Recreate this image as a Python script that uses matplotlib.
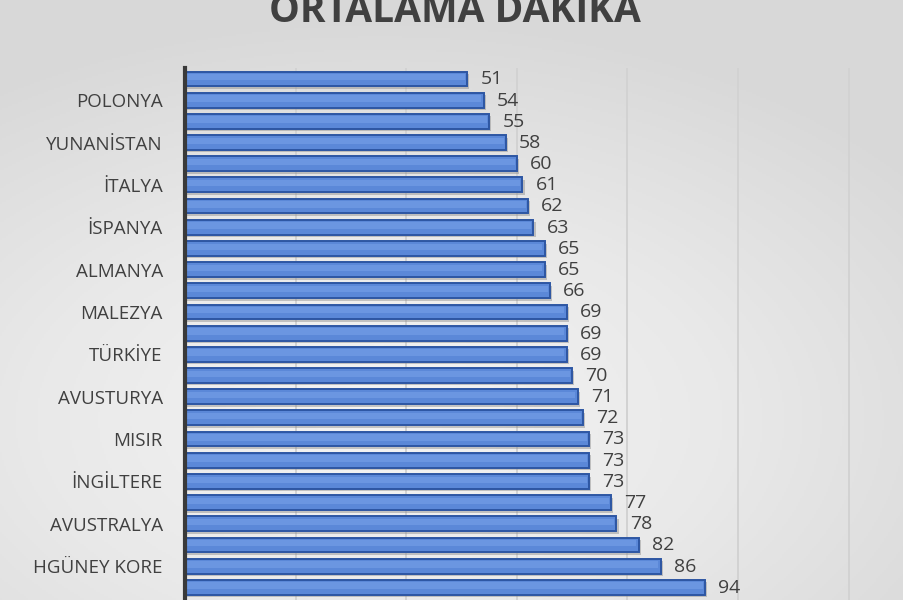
import numpy as np
import matplotlib.pyplot as plt
from matplotlib.colors import LinearSegmentedColormap

# Ortalama dakika verisi (sadece bazı ülke adları eksende yazılı)
countries = ["", "POLONYA", "", "YUNANİSTAN", "", "İTALYA", "", "İSPANYA",
             "", "ALMANYA", "", "MALEZYA", "", "TÜRKİYE", "", "AVUSTURYA",
             "", "MISIR", "", "İNGİLTERE", "", "AVUSTRALYA", "", "HGÜNEY KORE", ""]
minutes = [51, 54, 55, 58, 60, 61, 62, 63, 65, 65, 66, 69, 69,
           69, 70, 71, 72, 73, 73, 73, 77, 78, 82, 86, 94]
grid_ticks = [0, 20, 40, 60, 80, 100, 120]

plt.rcParams['font.family'] = ['Open Sans', 'DejaVu Sans']

fig = plt.figure(figsize=(9.04, 6.0), dpi=100)

# arka plan: ortası açık, kenarları koyu gri
bg = fig.add_axes([0, 0, 1, 1], zorder=0)
yy, xx = np.mgrid[0:1:300j, 0:1:452j]
r = np.sqrt(((xx - 0.42) / 0.95) ** 2 + ((yy - 0.7) / 0.85) ** 2)
bg_cmap = LinearSegmentedColormap.from_list('bg', ['#f4f4f4', '#e9e9e9', '#d8d8d8'])
bg.imshow(r, cmap=bg_cmap, aspect='auto', extent=[0, 1, 0, 1], vmin=0, vmax=0.8)
bg.axis('off')

ax = fig.add_axes([0.2047, 0.0, 0.7953, 0.886], zorder=1)
ax.set_facecolor('none')

pos = np.arange(len(minutes))
# gölge
ax.barh(pos + 0.12, minutes, height=0.7, left=0.4, color='#8a8a8a', alpha=0.45,
        zorder=2, linewidth=0)
# ana çubuklar
ax.barh(pos, minutes, height=0.7, color='#5b88d8', edgecolor='#2d56a3',
        linewidth=1.4, zorder=3)
# üst kısımda hafif parlaklık
ax.barh(pos - 0.08, [m - 0.8 for m in minutes], height=0.3, left=0.4,
        color='#79a3ea', alpha=0.55, linewidth=0, zorder=4)

for p, m in zip(pos, minutes):
    ax.text(m + 2.4, p + 0.02, str(m), va='center', ha='left',
            fontsize=14, color='#404040', zorder=5)

ax.set_xlim(0, 130)
ax.set_ylim(24.6, -0.5)
ax.set_xticks(grid_ticks)
ax.set_xticklabels([])
ax.tick_params(axis='x', length=0)
ax.grid(axis='x', color='#d2d2d2', linewidth=1.4, zorder=1)
ax.set_axisbelow(True)

ax.set_yticks(pos)
ax.set_yticklabels(countries, fontsize=13.5, color='#404040')
ax.tick_params(axis='y', length=0, pad=16)

for s in ['top', 'right', 'bottom']:
    ax.spines[s].set_visible(False)
ax.spines['left'].set_color('#3a3a3a')
ax.spines['left'].set_linewidth(3)
ax.spines['left'].set_zorder(6)

fig.text(0.503, 0.963, 'ORTALAMA DAKİKA', ha='center', va='baseline',
         fontsize=28, fontweight='bold', color='#404040')

fig.savefig('out.png', dpi=100)
